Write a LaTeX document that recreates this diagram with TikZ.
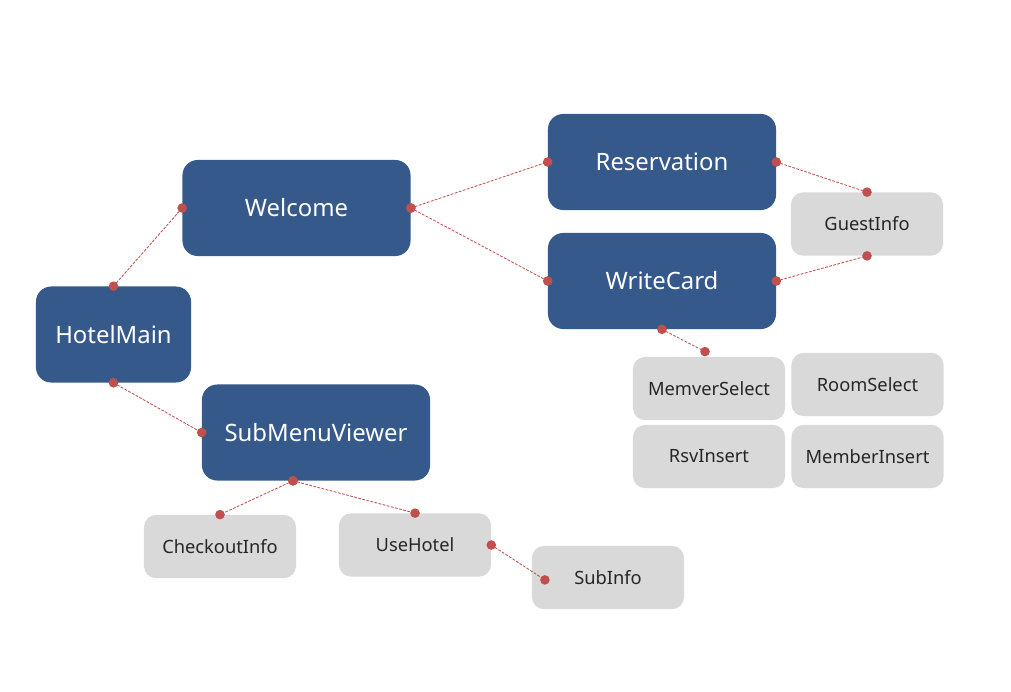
\documentclass[tikz,border=0pt]{standalone}
\usepackage{fontspec}
\setmainfont{Noto Sans}
\definecolor{boxblue}{RGB}{52,89,138}
\definecolor{boxgray}{RGB}{217,217,217}
\definecolor{linkred}{RGB}{192,80,77}

\begin{document}
\begin{tikzpicture}[x=0.025cm, y=-0.025cm,
    mainbox/.style={fill=boxblue, text=white, rounded corners=0.38cm, minimum height=2.4cm, minimum width=5.7cm, inner sep=0pt, font=\fontsize{17}{20}\selectfont},
    subbox/.style={fill=boxgray, text=black!85, rounded corners=0.3cm, minimum height=1.58cm, minimum width=3.8cm, inner sep=0pt, font=\fontsize{13}{16}\selectfont},
    link/.style={draw=linkred, line width=0.6pt, dash pattern=on 2pt off 1pt}]
    \useasboundingbox (0,0) rectangle (1011,691);
    % main screens
    \node[mainbox, minimum width=3.875cm] (hotelmain) at (113.5,334.5) {HotelMain};
    \node[mainbox] (welcome) at (296.5,208) {Welcome};
    \node[mainbox] (reservation) at (662,162) {Reservation};
    \node[mainbox] (writecard) at (662,281) {WriteCard};
    \node[mainbox] (submenu) at (316,432.5) {SubMenuViewer};
    % sub screens
    \node[subbox] (guestinfo) at (867,224) {GuestInfo};
    \node[subbox] (memverselect) at (709,388.5) {MemverSelect};
    \node[subbox] (roomselect) at (867.5,384.5) {RoomSelect};
    \node[subbox] (rsvinsert) at (709,456.5) {RsvInsert};
    \node[subbox] (memberinsert) at (867.5,456.5) {MemberInsert};
    \node[subbox] (checkoutinfo) at (220,546.5) {CheckoutInfo};
    \node[subbox] (usehotel) at (415,545) {UseHotel};
    \node[subbox] (subinfo) at (608,577.5) {SubInfo};
    % loose ends
    \coordinate (smvfoot) at ([xshift=-0.575cm]submenu.south);
    \coordinate (msdot) at ([xshift=-0.1cm, yshift=0.125cm]memverselect.north);
    \coordinate (sidot) at ([xshift=0.33cm, yshift=-0.06cm]subinfo.west);
    \foreach \from/\to in {hotelmain.north/welcome.west, hotelmain.south/submenu.west,
        welcome.east/reservation.west, welcome.east/writecard.west,
        reservation.east/guestinfo.north, writecard.east/guestinfo.south,
        writecard.south/msdot, smvfoot/checkoutinfo.north, smvfoot/usehotel.north,
        usehotel.east/sidot}
    {
    \draw[link] (\from) -- (\to);
    \fill[linkred] (\from) circle[radius=0.12cm] (\to) circle[radius=0.12cm];
    }
\end{tikzpicture}
\end{document}
